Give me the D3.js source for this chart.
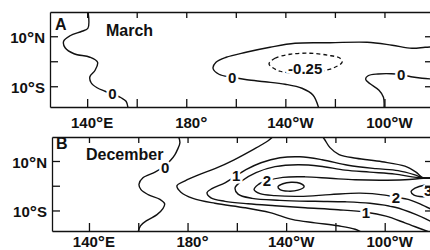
<!DOCTYPE html>
<html>
<head>
<meta charset="utf-8">
<script src="https://cdn.jsdelivr.net/npm/d3@7"></script>
<style>
  body { margin: 0; background: #fff; }
  svg { display: block; font-family: "Liberation Sans", Arial, Helvetica, sans-serif; font-weight: bold; }
</style>
</head>
<body>
<svg id="chart" width="430" height="250"></svg>
<script>
// axis ticks (longitude in degrees east, latitude in degrees north)
const lonTicks = [140, 160, 180, 200, 220, 240, 260];
const lonLabels = [[140, "140", "E"], [180, "180", ""], [220, "140", "W"], [260, "100", "W"]];
const latTicks = [10, 0, -10];
const latLabels = [[10, "10", "N"], [-10, "10", "S"]];

// March contours, points are [lon, lat]
const marchZeroWest = [[140.3, 20.4], [140.3, 13.2], [137.9, 12.0], [133.1, 10.2], [130.5, 8.0], [131.1, 5.4],
  [134.7, 3.0], [141.1, 1.6], [144.2, -0.4], [143.2, -3.6], [141.1, -6.2], [141.6, -8.6], [144.0, -10.6],
  [147.2, -12.0], [150.4, -13.2], [153.7, -14.6], [155.7, -16.0], [156.5, -18.8]];
const marchZeroCentral = [[233.6, -19.2], [231.2, -13.6], [226.7, -10.8], [219.9, -9.2], [211.8, -8.2],
  [204.5, -7.4], [198.5, -6.4], [193.2, -5.2], [190.8, -2.8], [192.0, -0.4], [196.1, 1.6], [204.1, 3.6],
  [213.8, 5.6], [223.9, 7.2], [238.0, 7.4], [253.0, 7.6], [263.1, 6.4], [271.1, 5.2], [276.4, 5.6], [280.4, 5.8]];
const marchZeroEast = [[259.8, -19.2], [259.6, -14.4], [257.8, -11.6], [254.2, -9.0], [252.4, -7.2],
  [253.4, -5.8], [257.4, -5.1], [262.7, -5.0], [266.7, -5.4], [270.7, -6.2], [275.2, -6.8], [280.4, -7.2]];
const marchNeg025 = [[213.4, -1.0], [215.8, 1.2], [221.9, 2.8], [230.0, 3.2], [237.2, 2.4], [242.1, 1.2],
  [242.9, -0.4], [239.6, -2.6], [233.2, -4.2], [225.1, -4.8], [217.9, -4.0], [214.6, -2.4]];
const marchLabels = [[150.2, -12.8, "0"], [198.5, -6.4, "0"], [228.0, -3.0, "-0.25"], [266.7, -5.4, "0"]];

// December contours
const decZeroWest = [[176.1, 20.6], [176.9, 17.4], [175.9, 14.6], [174.9, 12.6], [173.3, 10.5], [170.9, 8.1],
  [166.8, 5.5], [161.9, 3.2], [160.3, 0.6], [161.1, -1.6], [164.0, -3.6], [168.8, -5.5], [170.7, -7.3],
  [170.0, -9.3], [167.6, -11.7], [163.6, -14.0], [160.9, -16.2], [159.9, -19.0]];
const dec05 = [[280.8, 3.2], [275.6, 3.2], [272.7, 5.5], [268.2, 7.9], [258.9, 9.7], [248.4, 11.1], [241.5, 12.6],
  [237.8, 15.4], [235.4, 19.0], [232.9, 21.9], [224.8, 23.5], [217.5, 21.9], [212.7, 18.2], [206.6, 14.6],
  [198.9, 10.5], [191.1, 6.9], [184.2, 4.3], [179.0, 2.0], [175.7, 0.0], [177.3, -2.6], [182.2, -5.1],
  [191.1, -7.1], [203.3, -8.9], [213.5, -10.9], [222.4, -13.6], [231.7, -15.0], [241.1, -16.2], [248.0, -17.6],
  [252.4, -19.8]];
const dec1 = [[280.8, 3.2], [275.6, 3.2], [271.9, 4.5], [265.4, 6.1], [256.5, 6.9], [245.1, 8.3], [234.6, 10.5],
  [225.6, 11.7], [217.5, 11.3], [209.8, 9.3], [203.7, 6.5], [199.7, 4.0], [195.2, 1.2], [189.9, -1.2],
  [187.9, -2.8], [189.5, -4.9], [195.2, -6.3], [204.5, -7.3], [215.5, -8.1], [227.7, -8.9], [241.1, -9.7],
  [252.4, -10.7], [260.5, -12.3], [268.2, -15.0], [275.1, -17.6], [280.0, -19.4]];
const dec15 = [[280.8, 3.2], [275.6, 3.2], [271.1, 3.6], [264.2, 4.7], [254.0, 5.5], [243.9, 6.3], [233.8, 7.9],
  [224.8, 8.5], [215.5, 7.7], [207.8, 5.3], [202.1, 2.0], [199.3, -0.8], [200.5, -3.4], [206.2, -5.1],
  [217.5, -5.9], [231.7, -6.3], [243.9, -6.5], [254.0, -7.1], [264.2, -8.7], [272.3, -11.5], [280.0, -15.0]];
const dec2 = [[280.8, 3.2], [275.6, 3.0], [268.2, 2.4], [258.1, 2.2], [248.0, 2.4], [237.8, 3.0], [227.7, 3.6],
  [218.7, 3.4], [212.2, 2.0], [208.6, 0.4], [207.0, -1.6], [209.4, -3.2], [215.5, -4.0], [225.6, -4.3],
  [237.8, -3.6], [250.0, -3.0], [260.1, -3.8], [264.6, -4.7], [269.5, -5.5], [274.3, -7.3], [280.0, -10.1]];
const dec25 = [[216.7, -0.4], [218.7, 0.8], [222.0, 1.4], [225.6, 1.0], [227.3, -0.4], [224.8, -1.8],
  [220.8, -2.2], [217.5, -1.6]];
const dec3 = [[280.8, 0.2], [276.0, 0.2], [272.3, -1.0], [270.7, -2.4], [271.9, -3.8], [276.0, -4.5], [280.8, -4.5]];
const decLabels = [[170.9, 7.5, "0"], [199.7, 4.0, "1"], [252.4, -10.7, "1"], [212.2, 2.0, "2"],
  [264.6, -4.7, "2"], [277.6, -2.0, "3"]];

const panels = [
  { id: "A", title: "March", xr: [50, 434], yr: [12, 107], labelY: 127.5, idPos: [55, 29.5], titlePos: [106, 35.5],
    open: [marchZeroWest, marchZeroCentral, marchZeroEast], closed: [], dashed: [marchNeg025], labels: marchLabels },
  { id: "B", title: "December", xr: [52, 434], yr: [137, 231], labelY: 246.5, idPos: [56, 149], titlePos: [86, 160],
    open: [decZeroWest, dec05, dec1, dec15, dec2, dec3], closed: [dec25], dashed: [], labels: decLabels }
];

const svg = d3.select("#chart");
const ink = "#111";

// number, raised degree sign, hemisphere letter
function degreeText(sel, num, hemi) {
  sel.append("tspan").text(num);
  sel.append("tspan").attr("font-size", 18).attr("dy", 1).text("°");
  sel.append("tspan").attr("dy", -1).text(hemi);
}

panels.forEach((p, i) => {
  const x = d3.scaleLinear().domain([125, 280]).range(p.xr);
  const y = d3.scaleLinear().domain([19.7, -18.3]).range(p.yr);
  const g = svg.append("g");

  g.append("clipPath").attr("id", "clip" + i)
    .append("rect")
    .attr("x", p.xr[0]).attr("y", p.yr[0])
    .attr("width", p.xr[1] - p.xr[0]).attr("height", p.yr[1] - p.yr[0]);

  const plot = g.append("g").attr("clip-path", "url(#clip" + i + ")");

  const line = d3.line().x(d => x(d[0])).y(d => y(d[1])).curve(d3.curveCatmullRom.alpha(0.5));
  const loop = d3.line().x(d => x(d[0])).y(d => y(d[1])).curve(d3.curveCatmullRomClosed.alpha(0.5));

  plot.selectAll("path.open").data(p.open).enter().append("path")
    .attr("d", line).attr("fill", "none").attr("stroke", ink).attr("stroke-width", 1.4);
  plot.selectAll("path.loop").data(p.closed).enter().append("path")
    .attr("d", loop).attr("fill", "none").attr("stroke", ink).attr("stroke-width", 1.4);
  plot.selectAll("path.dash").data(p.dashed).enter().append("path")
    .attr("d", loop).attr("fill", "none").attr("stroke", ink).attr("stroke-width", 1.3)
    .attr("stroke-dasharray", "4,3");

  // contour labels, white halo breaks the line
  plot.selectAll("text.lab").data(p.labels).enter().append("text")
    .attr("x", d => x(d[0])).attr("y", d => y(d[1])).attr("dy", "0.36em")
    .attr("text-anchor", "middle").attr("font-size", 15).attr("fill", ink)
    .attr("stroke", "#fff").attr("stroke-width", 5).attr("paint-order", "stroke")
    .text(d => d[2]);

  // frame: four axes with inward ticks
  const axes = [
    [d3.axisLeft(y).tickValues(latTicks).tickSize(-8), "translate(" + p.xr[0] + ",0)"],
    [d3.axisRight(y).tickValues(latTicks).tickSize(-9), "translate(" + p.xr[1] + ",0)"],
    [d3.axisTop(x).tickValues(lonTicks).tickSize(-6), "translate(0," + p.yr[0] + ")"],
    [d3.axisBottom(x).tickValues(lonTicks).tickSize(-8), "translate(0," + p.yr[1] + ")"]
  ];
  axes.forEach(a => {
    const ax = g.append("g").attr("transform", a[1])
      .call(a[0].tickSizeOuter(0).tickFormat(""));
    ax.selectAll("path, line").attr("stroke", ink).attr("stroke-width", 1.3);
  });

  // tick labels
  lonLabels.forEach(d => {
    const t = g.append("text").attr("x", x(d[0]) + 5).attr("y", p.labelY)
      .attr("text-anchor", "middle").attr("font-size", 15).attr("fill", ink);
    degreeText(t, d[1], d[2]);
  });
  latLabels.forEach(d => {
    const t = g.append("text").attr("x", p.xr[0] - 5).attr("y", y(d[0]) + 7)
      .attr("text-anchor", "end").attr("font-size", 15).attr("fill", ink);
    degreeText(t, d[1], d[2]);
  });

  g.append("text").attr("x", p.idPos[0]).attr("y", p.idPos[1])
    .attr("font-size", 16).attr("fill", ink).text(p.id);
  g.append("text").attr("x", p.titlePos[0]).attr("y", p.titlePos[1])
    .attr("font-size", 16).attr("fill", ink).text(p.title);
});
</script>
</body>
</html>
